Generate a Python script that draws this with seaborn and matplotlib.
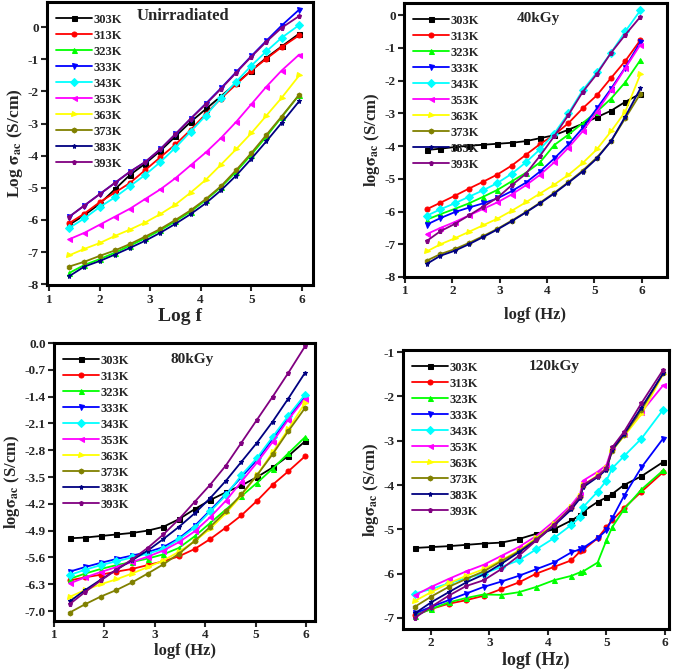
import pandas as pd
import matplotlib
matplotlib.use('Agg')
import matplotlib.pyplot as plt
import seaborn as sns

temps = ['303K', '313K', '323K', '333K', '343K', '353K', '363K', '373K', '383K', '393K']
colors = ['#000000', '#FF0000', '#00FF00', '#0000FF', '#00FFFF',
          '#FF00FF', '#FFFF00', '#808000', '#000080', '#800080']
markers = ['s', 'o', '^', 'v', 'D', '<', '>', 'h', '*', 'p']

# unirradiated
x_unirr = [1.4, 1.7, 2.0, 2.3, 2.6, 2.9, 3.2, 3.5, 3.8, 4.1, 4.4, 4.7, 5.0, 5.3, 5.6, 5.95]
unirr = {
    '303K': [-6.15, -5.85, -5.5, -5.05, -4.6, -4.25, -3.85, -3.4, -2.95, -2.55, -2.15, -1.75, -1.35, -0.95, -0.6, -0.2],
    '313K': [-6.1, -5.8, -5.45, -5.15, -4.85, -4.45, -4.05, -3.65, -3.2, -2.7, -2.22, -1.78, -1.35, -0.98, -0.62, -0.25],
    '323K': [-7.65, -7.4, -7.22, -7.02, -6.8, -6.57, -6.32, -6.04, -5.74, -5.38, -4.98, -4.5, -3.97, -3.4, -2.8, -2.1],
    '333K': [-5.9, -5.55, -5.2, -4.85, -4.5, -4.2, -3.8, -3.33, -2.85, -2.38, -1.9, -1.4, -0.9, -0.42, 0.05, 0.55],
    '343K': [-6.25, -5.95, -5.6, -5.3, -4.95, -4.6, -4.2, -3.75, -3.25, -2.75, -2.2, -1.7, -1.2, -0.75, -0.33, 0.07],
    '353K': [-6.6, -6.4, -6.15, -5.9, -5.65, -5.35, -5.05, -4.7, -4.3, -3.9, -3.45, -2.95, -2.4, -1.85, -1.35, -0.85],
    '363K': [-7.1, -6.9, -6.72, -6.5, -6.3, -6.08, -5.82, -5.52, -5.15, -4.75, -4.28, -3.8, -3.3, -2.75, -2.2, -1.5],
    '373K': [-7.45, -7.3, -7.12, -6.95, -6.75, -6.52, -6.28, -6.0, -5.7, -5.35, -4.95, -4.45, -3.92, -3.35, -2.78, -2.1],
    '383K': [-7.75, -7.45, -7.28, -7.08, -6.87, -6.65, -6.4, -6.12, -5.82, -5.48, -5.08, -4.62, -4.1, -3.55, -2.98, -2.3],
    '393K': [-5.9, -5.55, -5.2, -4.85, -4.5, -4.2, -3.8, -3.33, -2.85, -2.4, -1.92, -1.42, -0.92, -0.45, -0.02, 0.35],
}

# 40 kGy
x_40 = [1.46, 1.75, 2.05, 2.35, 2.65, 2.95, 3.25, 3.55, 3.85, 4.15, 4.45, 4.75, 5.05, 5.35, 5.65, 5.97]
kgy40 = {
    '303K': [-4.12, -4.08, -4.03, -3.99, -3.96, -3.93, -3.9, -3.85, -3.76, -3.67, -3.5, -3.32, -3.12, -2.92, -2.65, -2.4],
    '313K': [-5.93, -5.73, -5.52, -5.3, -5.09, -4.87, -4.6, -4.27, -3.94, -3.66, -3.3, -2.85, -2.45, -1.92, -1.4, -0.76],
    '323K': [-6.25, -6.08, -5.92, -5.75, -5.55, -5.34, -5.08, -4.82, -4.5, -3.97, -3.65, -3.3, -2.95, -2.55, -2.05, -1.37],
    '333K': [-6.4, -6.2, -6.02, -5.88, -5.75, -5.6, -5.38, -5.12, -4.78, -4.38, -3.95, -3.45, -2.85, -2.25, -1.6, -0.82],
    '343K': [-6.13, -5.93, -5.75, -5.55, -5.35, -5.13, -4.85, -4.5, -4.1, -3.62, -3.0, -2.3, -1.75, -1.15, -0.5, 0.15],
    '353K': [-6.69, -6.5, -6.32, -6.12, -5.92, -5.72, -5.48, -5.2, -4.88, -4.5, -4.05, -3.55, -2.95, -2.3, -1.62, -0.9],
    '363K': [-7.22, -7.0, -6.82, -6.62, -6.42, -6.22, -5.98, -5.72, -5.45, -5.18, -4.88, -4.52, -4.1, -3.55, -2.95, -1.8],
    '373K': [-7.5, -7.3, -7.15, -6.96, -6.75, -6.53, -6.28, -6.02, -5.73, -5.43, -5.1, -4.75, -4.35, -3.85, -3.15, -2.4],
    '383K': [-7.6, -7.35, -7.2, -7.0, -6.78, -6.55, -6.3, -6.03, -5.75, -5.45, -5.12, -4.78, -4.38, -3.85, -3.1, -2.24],
    '393K': [-6.9, -6.6, -6.38, -6.12, -5.85, -5.58, -5.2, -4.85, -4.3, -3.7, -3.05, -2.35, -1.8, -1.15, -0.6, -0.05],
}

# 80 kGy
x_80 = [1.31, 1.62, 1.93, 2.24, 2.55, 2.86, 3.17, 3.48, 3.79, 4.1, 4.41, 4.72, 5.03, 5.34, 5.65, 5.98]
kgy80 = {
    '303K': [-5.1, -5.08, -5.04, -5.0, -4.96, -4.9, -4.8, -4.6, -4.34, -4.1, -3.9, -3.72, -3.5, -3.25, -2.95, -2.57],
    '313K': [-6.2, -6.12, -6.05, -5.97, -5.9, -5.8, -5.7, -5.57, -5.38, -5.12, -4.82, -4.5, -4.12, -3.7, -3.35, -2.96],
    '323K': [-6.16, -6.02, -5.9, -5.8, -5.72, -5.63, -5.52, -5.35, -5.05, -4.7, -4.35, -4.0, -3.65, -3.28, -2.88, -2.46],
    '333K': [-5.97, -5.85, -5.74, -5.64, -5.55, -5.46, -5.33, -5.1, -4.78, -4.37, -3.95, -3.5, -3.05, -2.5, -1.95, -1.4],
    '343K': [-6.06, -5.92, -5.8, -5.7, -5.6, -5.5, -5.38, -5.13, -4.82, -4.4, -3.98, -3.45, -3.0, -2.45, -1.9, -1.35],
    '353K': [-6.28, -6.12, -5.98, -5.85, -5.72, -5.58, -5.42, -5.2, -4.92, -4.55, -4.12, -3.62, -3.12, -2.58, -2.0, -1.45],
    '363K': [-6.63, -6.45, -6.3, -6.17, -6.02, -5.85, -5.68, -5.45, -5.18, -4.85, -4.45, -3.98, -3.45, -2.85, -2.25, -1.57],
    '373K': [-7.04, -6.82, -6.62, -6.45, -6.25, -6.02, -5.78, -5.5, -5.17, -4.8, -4.4, -3.95, -3.45, -2.9, -2.3, -1.7],
    '383K': [-6.75, -6.45, -6.18, -5.92, -5.67, -5.42, -5.12, -4.8, -4.45, -4.05, -3.6, -3.1, -2.6, -2.05, -1.45, -0.78],
    '393K': [-6.82, -6.5, -6.2, -5.92, -5.65, -5.35, -5.0, -4.6, -4.15, -3.7, -3.2, -2.6, -2.0, -1.4, -0.78, -0.09],
}

# 120 kGy
x_120 = [1.72, 2.0, 2.3, 2.6, 2.9, 3.2, 3.5, 3.8, 4.1, 4.4, 4.55, 4.6, 4.85, 5.0, 5.1, 5.3, 5.6, 5.97]
kgy120 = {
    '303K': [-5.42, -5.4, -5.38, -5.35, -5.32, -5.3, -5.22, -5.1, -5.0, -4.8, -4.68, -4.6, -4.38, -4.28, -4.2, -4.0, -3.8, -3.48],
    '313K': [-6.94, -6.8, -6.68, -6.6, -6.5, -6.35, -6.2, -6.0, -5.85, -5.7, -5.5, -5.47, -5.2, -4.95, -4.8, -4.52, -4.15, -3.71],
    '323K': [-6.95, -6.8, -6.65, -6.55, -6.47, -6.48, -6.42, -6.3, -6.15, -6.05, -5.97, -5.95, -5.75, -5.25, -4.95, -4.55, -4.1, -3.67],
    '333K': [-6.9, -6.75, -6.6, -6.45, -6.3, -6.18, -6.05, -5.9, -5.75, -5.52, -5.45, -5.42, -5.2, -5.02, -4.75, -4.25, -3.6, -2.95],
    '343K': [-6.45, -6.35, -6.22, -6.1, -6.0, -5.85, -5.7, -5.45, -5.2, -4.9, -4.72, -4.5, -4.15, -3.9, -3.62, -3.35, -2.95, -2.3],
    '353K': [-6.49, -6.3, -6.12, -5.95, -5.8, -5.6, -5.4, -5.15, -4.82, -4.45, -4.2, -3.9, -3.7, -3.55, -3.15, -2.85, -2.35, -1.75],
    '363K': [-6.62, -6.42, -6.22, -6.05, -5.9, -5.7, -5.48, -5.2, -4.88, -4.5, -4.25, -4.0, -3.78, -3.62, -3.2, -2.9, -2.4, -1.5],
    '373K': [-6.75, -6.52, -6.3, -6.12, -5.95, -5.72, -5.5, -5.22, -4.9, -4.52, -4.27, -4.02, -3.8, -3.64, -3.22, -2.88, -2.3, -1.48],
    '383K': [-6.9, -6.65, -6.42, -6.2, -6.02, -5.78, -5.52, -5.25, -4.92, -4.55, -4.3, -4.05, -3.82, -3.65, -3.2, -2.85, -2.25, -1.48],
    '393K': [-7.0, -6.75, -6.5, -6.28, -6.15, -5.9, -5.6, -5.25, -4.9, -4.5, -4.25, -4.0, -3.8, -3.62, -3.15, -2.8, -2.15, -1.4],
}

sns.set_style('ticks')
plt.rcParams['font.family'] = ['Liberation Serif', 'DejaVu Serif']
plt.rcParams['font.weight'] = 'bold'
plt.rcParams['mathtext.fontset'] = 'stix'
plt.rcParams['axes.unicode_minus'] = False

fig = plt.figure(figsize=(6.75, 6.71), dpi=100)

panels = [
    # x, data, rect, xlim, ylim, xticks, yticks, title, title pos, xlabel, ylabel, xlabel size, xlabel pad
    (x_unirr, unirr, [0.0696, 0.575, 0.394, 0.4218], (0.96, 6.22), (-8.03, 0.78),
     [1, 2, 3, 4, 5, 6], list(range(-8, 1)), 'Unirradiated', (0.51, 0.95),
     'Log f', r'Log $\mathbf{\sigma_{ac}}$ (S/cm)', 14, 2),
    (x_40, kgy40, [0.5985, 0.5872, 0.3896, 0.4083], (0.98, 6.53), (-8.0, 0.37),
     [1, 2, 3, 4, 5, 6], list(range(-8, 1)), '40kGy', (0.51, 0.945),
     'logf (Hz)', r'log$\mathbf{\sigma_{ac}}$ (S/cm)', 12, 7),
    (x_80, kgy80, [0.08, 0.0745, 0.3867, 0.4143], (1.0, 6.18), (-7.26, 0.0),
     [1, 2, 3, 4, 5, 6], [-7.0, -6.3, -5.6, -4.9, -4.2, -3.5, -2.8, -2.1, -1.4, -0.7, 0.0], '80kGy', (0.53, 0.94),
     'logf (Hz)', r'log$\mathbf{\sigma_{ac}}$ (S/cm)', 12, 1),
    (x_120, kgy120, [0.597, 0.0626, 0.394, 0.4158], (1.52, 6.07), (-7.25, -0.95),
     [2, 3, 4, 5, 6], list(range(-7, 0)), '120kGy', (0.57, 0.94),
     'logf (Hz)', r'log$\mathbf{\sigma_{ac}}$ (S/cm)', 13, 2),
]

for i, (xs, data, rect, xlim, ylim, xt, yt, title, tpos, xlab, ylab, xfs, xpad) in enumerate(panels):
    ax = fig.add_axes(rect)
    for t, c, m in zip(temps, colors, markers):
        df = pd.DataFrame({'logf': xs, 'sigma': data[t]})
        sns.lineplot(data=df, x='logf', y='sigma', color=c, marker=m, markersize=3.6,
                     markeredgecolor=c, linewidth=1.3, label=t, ax=ax)
    ax.set_xlim(*xlim)
    ax.set_ylim(*ylim)
    ax.set_xticks(xt)
    ax.set_yticks(yt)
    if i == 2:
        ax.set_yticklabels(['%.1f' % v for v in yt])
    ax.tick_params(direction='out', length=4, width=1.5, labelsize=9.5, pad=2)
    for lab in ax.get_xticklabels() + ax.get_yticklabels():
        lab.set_fontweight('bold')
    for s in ax.spines.values():
        s.set_linewidth(2.2)
        s.set_color('black')
        s.set_visible(True)
    ax.set_xlabel(xlab, fontsize=xfs, fontweight='bold', labelpad=xpad)
    ax.set_ylabel(ylab, fontsize=12.5 if i == 0 else 12, fontweight='bold', labelpad=2)
    ax.text(tpos[0], tpos[1], title, transform=ax.transAxes, ha='center', va='center',
            fontsize=12 if i == 0 else 11, fontweight='bold')
    ax.legend(loc='upper left', frameon=False, fontsize=9, labelspacing=0.32,
              handlelength=2.9, handletextpad=0.1, borderaxespad=0.3,
              bbox_to_anchor=(0.0, 0.99))

fig.savefig('out.png', dpi=100)
